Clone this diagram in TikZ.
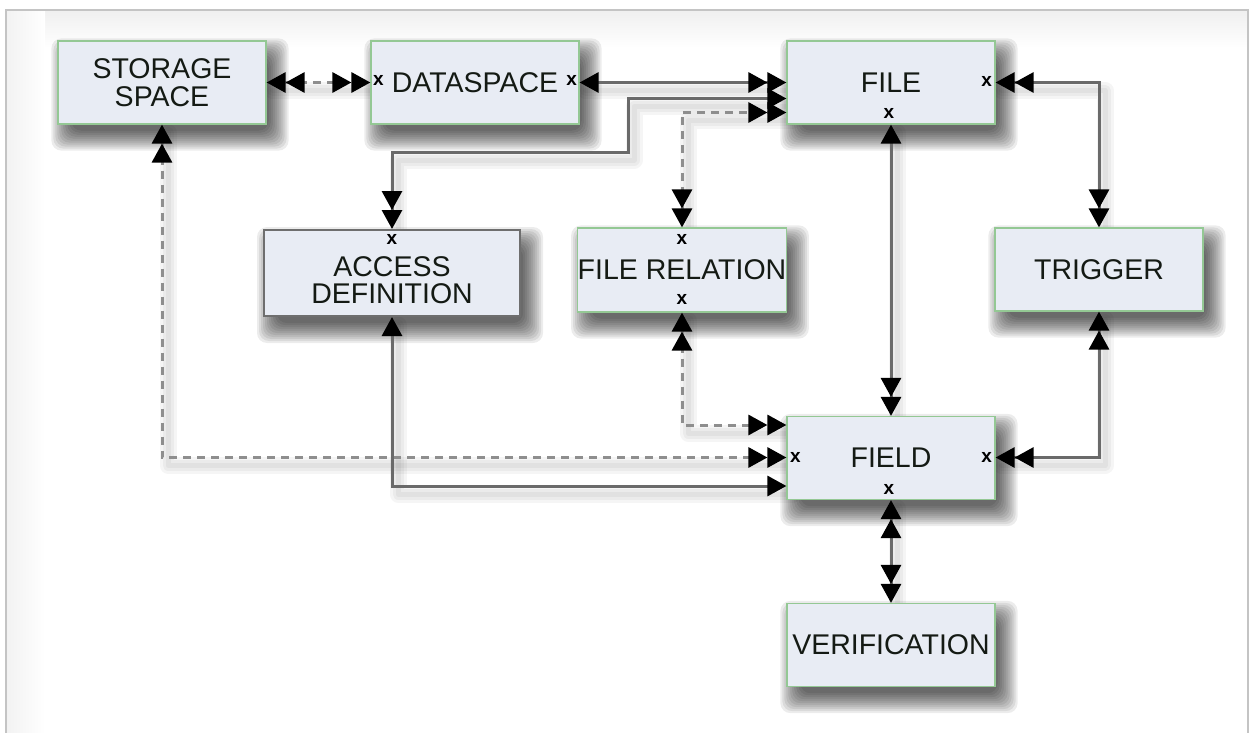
\documentclass[tikz,border=0pt]{standalone}
\usepackage{fontspec}
\setmainfont{Liberation Sans}
\usetikzlibrary{arrows.meta,calc}
\definecolor{boxfill}{HTML}{E8ECF4}
\definecolor{boxline}{HTML}{94C894}
\definecolor{adline}{HTML}{6E6E6E}
\definecolor{solidc}{HTML}{6A6A6A}
\definecolor{dashc}{HTML}{8E8E8E}
\definecolor{framec}{HTML}{C4C4C4}
\definecolor{txt}{HTML}{141A14}
\pgfdeclarelayer{bg}
\pgfsetlayers{bg,main}
\newcommand\boxshadow[1]{%
  \foreach \sh in {-6,-4,...,14}{%
    \fill[black, fill opacity=0.075, rounded corners=10pt]
      ($(#1.north west)+(8-\sh,12-\sh)$) rectangle ($(#1.south east)+(8+\sh,12+\sh)$);
  }}
\newcommand\conn[3]{%
  \begin{pgfonlayer}{bg}
    \foreach \lw in {5,11,17}{%
      \draw[black, draw opacity=0.04, line width=\lw pt, line join=round, line cap=round,
        transform canvas={shift={(6pt,-8pt)}}] #3;
    }
  \end{pgfonlayer}
  \draw[#1, arrows={#2}] #3;}
\tikzset{
  Sgl/.tip={Triangle[length=19pt,width=20pt,color=black]},
  Dbl/.tip={Triangle[length=19pt,width=20pt,color=black]Triangle[length=19pt,width=20pt,color=black]},
}
\begin{document}
\begin{tikzpicture}[x=1pt,y=-1pt,
  box/.style={draw=boxline, line width=1.2pt, fill=boxfill, minimum width=208pt,
    minimum height=83pt, inner sep=0pt, align=center,
    font=\fontsize{28.5}{28}\selectfont, text=txt},
  adbox/.style={box, draw=adline, line width=2pt, minimum width=256pt, minimum height=86pt},
  lbl/.style={inner sep=0pt, align=center, font=\fontsize{28.5}{27}\selectfont, text=txt},
  mk/.style={inner sep=0pt, font=\fontsize{19}{19}\bfseries\selectfont, text=black},
  sline/.style={draw=solidc, line width=3pt},
  dline/.style={draw=dashc, line width=3pt, dash pattern=on 8pt off 6pt},
]
\useasboundingbox (0,0) rectangle (1255,733);

% boxes
\node[box] (storage) at (162,82.5) {STORAGE\\SPACE};
\node[box] (dataspace) at (475,82.5) {DATASPACE};
\node[box] (file) at (891,82.5) {FILE};
\node[adbox] (access) at (392,273) {};
\node[lbl] (acctext) at (392,280) {ACCESS\\DEFINITION};
\node[box, minimum height=84pt] (filerel) at (682,270) {FILE RELATION};
\node[box] (trigger) at (1099,269.5) {TRIGGER};
\node[box] (field) at (891,458) {FIELD};
\node[box] (verif) at (891,645) {VERIFICATION};

% x marks
\node[mk] (m1) at ($(dataspace.west)+(8,-2)$) {x};
\node[mk] (m2) at ($(dataspace.east)+(-8,-2)$) {x};
\node[mk] (m3) at ($(file.east)+(-9,-1)$) {x};
\node[mk] (m4) at ($(file.south)+(-2,-11)$) {x};
\node[mk] (m5) at ($(access.north)+(0,10)$) {x};
\node[mk] (m6) at ($(filerel.north)+(0,12)$) {x};
\node[mk] (m7) at ($(filerel.south)+(0,-13)$) {x};
\node[mk] (m8) at ($(field.west)+(9,-1)$) {x};
\node[mk] (m9) at ($(field.east)+(-9,-1)$) {x};
\node[mk] (m10) at ($(field.south)+(-2,-11)$) {x};

% background, frame, shadows
\begin{pgfonlayer}{bg}
  \fill[white] (0,0) rectangle (1255,733);
  \shade[top color=black!6, bottom color=white] (7,11) rectangle (1247,48);
  \shade[left color=black!5, right color=white] (7,11) rectangle (45,733);
  \draw[framec, line width=2pt] (6,733) -- (6,10) -- (1248,10) -- (1248,733);
  \boxshadow{storage}
  \boxshadow{dataspace}
  \boxshadow{file}
  \boxshadow{access}
  \boxshadow{filerel}
  \boxshadow{trigger}
  \boxshadow{field}
  \boxshadow{verif}
\end{pgfonlayer}

% bend points
\coordinate (c1) at (628,98.5);
\coordinate (c2) at (628,152);
\coordinate (c3) at (392,152);
\coordinate (d1) at (682,112.5);
\coordinate (e1) at (1099,82.5);
\coordinate (f1) at (1099,457.5);
\coordinate (g1) at (682,425);
\coordinate (h1) at (162,457.5);
\coordinate (k1) at (392,486);

% connectors
\conn{dline}{Dbl-Dbl}{(storage.east) -- (dataspace.west)}
\conn{sline}{Sgl-Dbl}{(dataspace.east) -- (file.west)}
\conn{sline}{Dbl-Sgl}{(access.north) -- (c3) -- (c2) -- (c1) -- (file.west |- c1)}
\conn{dline}{Dbl-Dbl}{(filerel.north) -- (d1) -- (file.west |- d1)}
\conn{sline}{Sgl-Dbl}{(file.south) -- (field.north)}
\conn{sline}{Dbl-Dbl}{(file.east) -- (e1) -- (trigger.north)}
\conn{sline}{Dbl-Dbl}{(trigger.south) -- (f1) -- (field.east |- f1)}
\conn{dline}{Dbl-Dbl}{(filerel.south) -- (g1) -- (field.west |- g1)}
\conn{dline}{Dbl-Dbl}{(storage.south) -- (h1) -- (field.west |- h1)}
\conn{sline}{Sgl-Sgl}{(access.south) -- (k1) -- (field.west |- k1)}
\conn{sline}{Dbl-Dbl}{(field.south) -- (verif.north)}
\end{tikzpicture}
\end{document}
